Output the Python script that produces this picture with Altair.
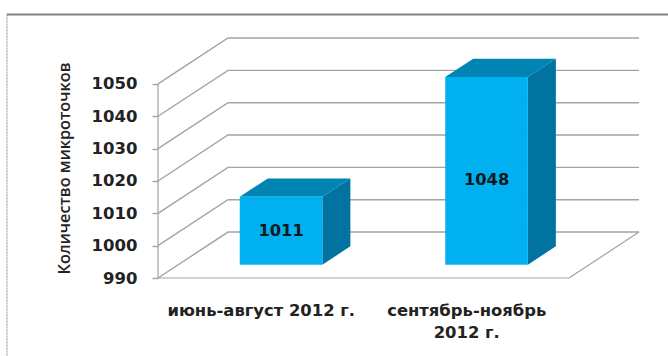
import altair as alt
import pandas as pd

# Values shown on the chart
categories = ["июнь-август 2012 г.", "сентябрь-ноябрь 2012 г."]
values = [1011, 1048]
label_heights = [1004.4, 1020.2]
y_ticks = [990, 1000, 1010, 1020, 1030, 1040, 1050]
y_title = "Количество микроточков"

# Oblique projection: how far the rear of the box moves, in axis units
DEPTH_X = 0.3406
DEPTH_Y = 14.2
BAR_WIDTH = 0.402
BAR_NEAR = 0.29
BAR_FAR = 0.69
BASE = 990
X_MAX = 2 + DEPTH_X
Y_MAX = 1050 + DEPTH_Y

GRID = "#a3a3a3"
FRONT = "#00b0f0"
TOP = "#0084b4"
SIDE = "#0073a0"
FONT = "DejaVu Sans"


def project(x, y, depth):
    return x + depth * DEPTH_X, y + depth * DEPTH_Y


x_scale = alt.Scale(domain=[0, X_MAX], nice=False, zero=False)
y_scale = alt.Scale(domain=[BASE, Y_MAX], nice=False, zero=False)

# Side and rear walls: one polyline per tick value
wall_rows = []
for tick in y_ticks:
    for order, (x, depth) in enumerate([(0, 0), (0, 1), (2, 1)]):
        px, py = project(x, tick, depth)
        wall_rows.append({"tick": tick, "order": order, "x": px, "y": py})
walls = (
    alt.Chart(pd.DataFrame(wall_rows))
    .mark_line(color=GRID, strokeWidth=1.4)
    .encode(
        x=alt.X(
            "x:Q",
            scale=x_scale,
            title=None,
            axis=alt.Axis(
                values=[0.5, 1.5],
                domain=False,
                ticks=False,
                grid=False,
                labelFont=FONT,
                labelFontSize=16.4,
                labelFontWeight="bold",
                labelColor="#222222",
                labelPadding=24,
                labelLineHeight=22,
                labelLimit=400,
                labelOverlap=False,
                labelFlush=False,
                labelExpr=(
                    f"datum.value < 1 ? '{categories[0]}' : "
                    "['сентябрь-ноябрь', '2012 г.']"
                ),
            ),
        ),
        y=alt.Y(
            "y:Q",
            scale=y_scale,
            title=y_title,
            axis=alt.Axis(
                values=y_ticks,
                tickCount=len(y_ticks),
                domain=False,
                grid=False,
                tickColor=GRID,
                tickSize=6,
                tickWidth=1.4,
                labelFont=FONT,
                labelFontSize=16.5,
                labelFontWeight="bold",
                labelColor="#222222",
                labelPadding=15,
                labelOverlap=False,
                format="d",
                titleFont="Open Sans",
                titleFontSize=16.3,
                titleFontWeight=600,
                titleColor="#222222",
                titleX=-86,
                titleY=130,
            ),
        ),
        detail="tick:N",
        order="order:Q",
    )
)

# Vertical axis line and the two open edges of the floor
edge_rows = [
    dict(zip(("x", "y", "x2", "y2"), (0, y_ticks[0], 0, y_ticks[-1]))),
    dict(zip(("x", "y", "x2", "y2"), (0, BASE, 2, BASE))),
    dict(zip(("x", "y", "x2", "y2"), (2, BASE, *project(2, BASE, 1)))),
]
edges = (
    alt.Chart(pd.DataFrame(edge_rows))
    .mark_rule(color=GRID, strokeWidth=1.2)
    .encode(
        x=alt.X("x:Q", scale=x_scale),
        x2="x2:Q",
        y=alt.Y("y:Q", scale=y_scale),
        y2="y2:Q",
    )
)

# Box geometry derived from each value
front_rows, side_rows, top_rows, label_rows = [], [], [], []
for i, value in enumerate(values):
    left = i + 0.5 - BAR_WIDTH / 2
    right = i + 0.5 + BAR_WIDTH / 2
    near_l, near_base = project(left, BASE, BAR_NEAR)
    near_r, near_top = project(right, value, BAR_NEAR)
    far_l, far_base = project(left, BASE, BAR_FAR)
    far_r, far_top = project(right, value, BAR_FAR)
    front_rows.append({"x": near_l, "x2": near_r, "y": near_base, "y2": near_top})
    side_rows.append({"bar": i, "x": near_r, "y": near_base, "y2": near_top})
    side_rows.append({"bar": i, "x": far_r, "y": far_base, "y2": far_top})
    top_rows.append({"bar": i, "y": near_top, "x": near_l, "x2": near_r})
    top_rows.append({"bar": i, "y": far_top, "x": far_l, "x2": far_r})
    label_rows.append({"x": (near_l + near_r) / 2, "y": label_heights[i], "value": value})

fronts = (
    alt.Chart(pd.DataFrame(front_rows))
    .mark_rect(color=FRONT)
    .encode(
        x=alt.X("x:Q", scale=x_scale),
        x2="x2:Q",
        y=alt.Y("y:Q", scale=y_scale),
        y2="y2:Q",
    )
)
sides = (
    alt.Chart(pd.DataFrame(side_rows))
    .mark_area(color=SIDE, orient="vertical", opacity=1)
    .encode(
        x=alt.X("x:Q", scale=x_scale),
        y=alt.Y("y:Q", scale=y_scale, stack=None),
        y2="y2:Q",
        detail="bar:N",
    )
)
tops = (
    alt.Chart(pd.DataFrame(top_rows))
    .mark_area(color=TOP, orient="horizontal", opacity=1)
    .encode(
        y=alt.Y("y:Q", scale=y_scale),
        x=alt.X("x:Q", scale=x_scale, stack=None),
        x2="x2:Q",
        detail="bar:N",
    )
)
labels = (
    alt.Chart(pd.DataFrame(label_rows))
    .mark_text(font=FONT, fontSize=16.3, fontWeight="bold", color="#101820")
    .encode(
        x=alt.X("x:Q", scale=x_scale),
        y=alt.Y("y:Q", scale=y_scale),
        text="value:Q",
    )
)

# Outer frame: solid along the top, dotted down the left
frame_top = alt.Chart(pd.DataFrame({"a": [0]})).mark_rule(
    color="#808080", strokeWidth=2
).encode(x=alt.value(-151), x2=alt.value(510), y=alt.value(-23.5))
frame_left = alt.Chart(pd.DataFrame({"a": [0]})).mark_rule(
    color="#8c8c8c", strokeWidth=1, strokeDash=[2, 1]
).encode(x=alt.value(-151), y=alt.value(-23.5), y2=alt.value(318))

chart = (
    alt.layer(walls, edges, sides, tops, fronts, labels, frame_top, frame_left)
    .resolve_scale(x="shared", y="shared")
    .properties(
        width=481,
        height=240,
        autosize="none",
        padding={"left": 158, "top": 38, "right": 29, "bottom": 78},
        background="white",
    )
    .configure_view(stroke=None)
)

chart.save("out.html", embed_options={"renderer": "svg", "actions": False})
